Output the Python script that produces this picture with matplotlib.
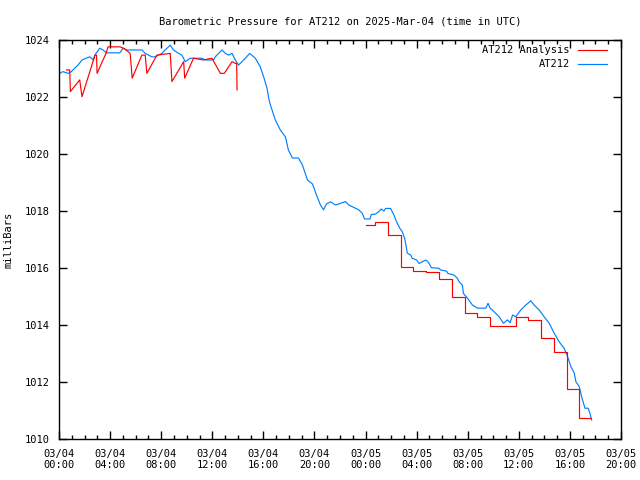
import datetime as dt
import matplotlib
matplotlib.use("Agg")
import matplotlib.pyplot as plt
import matplotlib.dates as mdates

# hours after 2025-03-04 00:00 UTC
obs_hours = [0.05, 0.31, 0.71, 0.94, 1.23, 1.49, 1.80, 2.14, 2.41, 2.53, 2.69, 2.80,
             3.19, 3.45, 3.71, 4.76, 5.02, 5.31, 6.49, 6.75, 7.27, 7.53, 8.05, 8.31,
             8.71, 8.96, 9.36, 9.62, 9.88, 10.27, 11.19, 11.45, 12.10, 12.24, 12.76,
             13.02, 13.28, 13.55, 13.80, 14.06, 14.33, 14.59, 14.93, 15.37, 15.76,
             16.02, 16.29, 16.42, 16.55, 16.94, 17.33, 17.73, 17.96, 18.27, 18.75,
             19.06, 19.45, 19.84, 20.16, 20.47, 20.71, 20.94, 21.25, 21.65, 22.04,
             22.43, 22.69, 22.96, 23.22, 23.47, 23.74, 23.92, 24.34, 24.45, 24.78,
             25.04, 25.23, 25.44, 25.57, 25.96, 26.22, 26.43, 26.69, 26.88, 27.06,
             27.16, 27.27, 27.53, 27.66, 28.00, 28.18, 28.45, 28.71, 28.89, 29.04,
             29.15, 29.75, 29.88, 30.35, 30.45, 30.93, 31.19, 31.32, 31.58, 31.66,
             31.98, 32.37, 32.76, 33.41, 33.59, 33.75, 34.06, 34.45, 34.80, 35.11,
             35.32, 35.51, 35.76, 36.16, 36.55, 36.94, 37.20, 37.59, 37.98, 38.38,
             38.77, 39.16, 39.55, 39.82, 40.08, 40.34, 40.47, 40.73, 40.92, 41.18,
             41.43, 41.57, 41.70]
obs_mb = [1022.83, 1022.89, 1022.83, 1022.88, 1023.01, 1023.12, 1023.30, 1023.36,
          1023.41, 1023.36, 1023.30, 1023.47, 1023.71, 1023.65, 1023.55, 1023.55,
          1023.71, 1023.65, 1023.65, 1023.53, 1023.41, 1023.41, 1023.53, 1023.65,
          1023.82, 1023.65, 1023.53, 1023.47, 1023.24, 1023.36, 1023.36, 1023.30,
          1023.30, 1023.41, 1023.65, 1023.53, 1023.47, 1023.53, 1023.30, 1023.12,
          1023.24, 1023.36, 1023.53, 1023.36, 1023.06, 1022.71, 1022.30, 1021.95,
          1021.72, 1021.19, 1020.84, 1020.60, 1020.14, 1019.86, 1019.86, 1019.61,
          1019.09, 1018.95, 1018.56, 1018.21, 1018.04, 1018.25, 1018.32, 1018.21,
          1018.27, 1018.33, 1018.21, 1018.15, 1018.09, 1018.04, 1017.92, 1017.72,
          1017.72, 1017.88, 1017.89, 1017.98, 1018.07, 1018.00, 1018.09, 1018.09,
          1017.86, 1017.62, 1017.39, 1017.27, 1017.04, 1016.81, 1016.52, 1016.46,
          1016.34, 1016.28, 1016.16, 1016.22, 1016.28, 1016.22, 1016.11, 1016.01,
          1015.99, 1015.93, 1015.89, 1015.81, 1015.75, 1015.64, 1015.52, 1015.40,
          1015.11, 1014.94, 1014.70, 1014.59, 1014.59, 1014.76, 1014.59, 1014.47,
          1014.29, 1014.06, 1014.18, 1014.08, 1014.35, 1014.29, 1014.53, 1014.70,
          1014.85, 1014.70, 1014.53, 1014.29, 1014.06, 1013.71, 1013.41, 1013.18,
          1012.89, 1012.54, 1012.31, 1012.01, 1011.84, 1011.48, 1011.08, 1011.08,
          1010.90, 1010.67]

# analysis, first part (sawtooth)
ana1_hours = [0.59, 0.84, 0.89, 1.62, 1.80, 2.82, 2.94, 2.98, 3.69, 3.84, 4.78, 5.10,
              5.57, 5.73, 6.49, 6.75, 6.88, 7.53, 7.66, 8.71, 8.84, 9.76, 9.84, 10.53,
              11.32, 11.98, 12.63, 12.94, 13.55, 13.80, 13.91, 13.94]
ana1_mb = [1022.95, 1022.95, 1022.19, 1022.60, 1022.01, 1023.47, 1023.47, 1022.83,
           1023.54, 1023.76, 1023.76, 1023.70, 1023.53, 1022.66, 1023.47, 1023.47,
           1022.83, 1023.36, 1023.47, 1023.53, 1022.54, 1023.24, 1022.66, 1023.36,
           1023.30, 1023.36, 1022.83, 1022.83, 1023.24, 1023.18, 1023.18, 1022.25]

# analysis, second part (hourly steps)
ana2_hours = [24.0, 24.75, 25.75, 26.75, 27.75, 28.75, 29.75, 30.75, 31.75, 32.75,
              33.75, 34.75, 35.75, 36.75, 37.75, 38.75, 39.75, 40.75, 41.65]
ana2_mb = [1017.51, 1017.60, 1017.16, 1016.05, 1015.89, 1015.86, 1015.61, 1015.00,
           1014.41, 1014.27, 1013.96, 1013.96, 1014.27, 1014.18, 1013.53, 1013.05,
           1011.74, 1010.75, 1010.75]

start = dt.datetime(2025, 3, 4, 0, 0)


def to_time(hours):
    return [start + dt.timedelta(hours=h) for h in hours]


plt.rcParams["font.family"] = "DejaVu Sans Mono"
plt.rcParams["font.size"] = 7.5

fig = plt.figure(figsize=(6.4, 4.8), dpi=100)
ax = fig.add_axes([59 / 640, 41 / 480, 562 / 640, 399 / 480])

blue, = ax.plot(to_time(obs_hours), obs_mb, color="#0080ff", lw=0.85, label="AT212")
red, = ax.plot(to_time(ana1_hours), ana1_mb, color="#ff0000", lw=0.85,
               label="AT212 Analysis")
ax.plot(to_time(ana2_hours), ana2_mb, color="#ff0000", lw=0.85, drawstyle="steps-post")

ax.set_xlim(start, start + dt.timedelta(hours=44))
ax.set_ylim(1010, 1024)
ax.set_yticks(range(1010, 1025, 2))
ax.xaxis.set_major_locator(mdates.HourLocator(byhour=range(0, 24, 4)))
ax.xaxis.set_minor_locator(mdates.HourLocator())
ax.xaxis.set_major_formatter(mdates.DateFormatter("%m/%d\n%H:%M"))
ax.tick_params(which="both", direction="in", top=True, right=True, width=1)
ax.tick_params(which="major", length=6, pad=7)
ax.tick_params(which="minor", length=3)
for s in ax.spines.values():
    s.set_linewidth(1)

ax.set_title("Barometric Pressure for AT212 on 2025-Mar-04 (time in UTC)",
             fontsize=7.5, pad=11)
ax.set_ylabel("milliBars", labelpad=8)

ax.legend(handles=[red, blue], loc="upper right", frameon=False, markerfirst=False,
          handlelength=2.8, borderaxespad=0.1, labelspacing=0.4,
          bbox_to_anchor=(0.985, 1.0))

fig.savefig("out.png", dpi=100)
